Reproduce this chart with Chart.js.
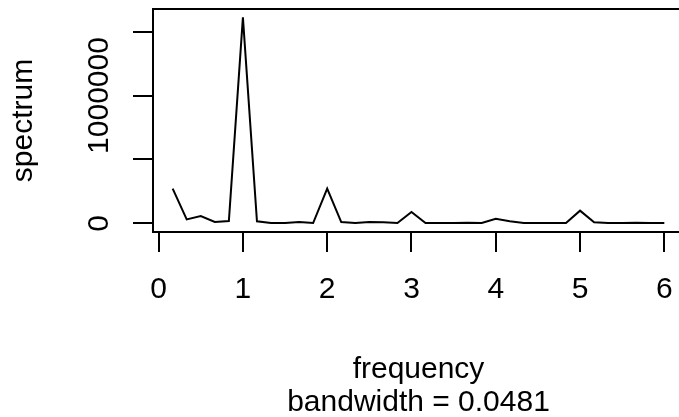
<!DOCTYPE html>
<html lang="en">
<head>
  <meta charset="UTF-8" />
  <title>Spectrum</title>
  <script src="https://cdn.jsdelivr.net/npm/chart.js"></script>
  <style>
    html, body { margin: 0; padding: 0; overflow: hidden; background: #fff; }
    #wrap { width: 684px; height: 417px; }
  </style>
</head>
<body>
<div id="wrap"><canvas id="specChart" width="684" height="417"></canvas></div>

<script>
  // raw periodogram
  const freq = [0.1667, 0.3333, 0.5, 0.6667, 0.8333, 1, 1.1667, 1.3333, 1.5, 1.6667, 1.8333, 2,
                2.1667, 2.3333, 2.5, 2.6667, 2.8333, 3, 3.1667, 3.3333, 3.5, 3.6667, 3.8333, 4,
                4.1667, 4.3333, 4.5, 4.6667, 4.8333, 5, 5.1667, 5.3333, 5.5, 5.6667, 5.8333, 6];
  const spec = [271000, 31000, 57000, 10000, 18000, 1612000, 16000, 2000, 3000, 10000, 2000, 271000,
                10000, 2000, 10000, 8000, 3000, 88000, 2000, 2000, 2000, 5000, 2000, 35000,
                16000, 3000, 3000, 3000, 3000, 99000, 8000, 3000, 3000, 5000, 3000, 2000];
  const xTicks = [0, 1, 2, 3, 4, 5, 6];
  const yTicks = [0, 500000, 1000000, 1500000];
  const yTickLabels = ['0', '', '1000000', ''];
  const xTitle = ['frequency', 'bandwidth = 0.0481'];
  const yTitle = 'spectrum';

  const FONT = 'Liberation Sans, Arial, sans-serif';
  const fontSize = 30;

  // box round the plot region + rotated y tick labels, like base R
  const boxPlugin = {
    id: 'box',
    afterDraw(chart) {
      const { ctx, chartArea: a } = chart;
      const ys = chart.scales.y;
      ctx.save();
      ctx.strokeStyle = '#000';
      ctx.lineWidth = 2;
      ctx.strokeRect(a.left, a.top, a.right - a.left, a.bottom - a.top);
      ctx.fillStyle = '#000';
      ctx.font = fontSize + 'px ' + FONT;
      ctx.textAlign = 'center';
      ctx.textBaseline = 'alphabetic';
      yTicks.forEach((v, i) => {
        if (!yTickLabels[i]) return;
        ctx.save();
        ctx.translate(a.left - 45, ys.getPixelForValue(v));
        ctx.rotate(-Math.PI / 2);
        ctx.fillText(yTickLabels[i], 0, 0);
        ctx.restore();
      });
      ctx.restore();
    }
  };

  new Chart(document.getElementById('specChart').getContext('2d'), {
    type: 'line',
    data: {
      datasets: [{
        data: freq.map((f, i) => ({ x: f, y: spec[i] })),
        borderColor: '#000',
        borderWidth: 2,
        pointRadius: 0,
        tension: 0,
        fill: false
      }]
    },
    options: {
      responsive: false,
      animation: false,
      devicePixelRatio: 1,
      layout: { padding: { top: 9, right: 0, bottom: 0, left: 0 } },
      plugins: { legend: { display: false }, tooltip: { enabled: false } },
      scales: {
        x: {
          type: 'linear',
          min: -0.0667,
          max: 6.2333,
          afterBuildTicks: s => { s.ticks = xTicks.map(v => ({ value: v })); },
          afterFit: s => { s.height = 185; s.paddingLeft = 0; s.paddingRight = 0; },
          grid: { display: true, drawOnChartArea: false, drawTicks: true, tickLength: 20, color: '#000', lineWidth: 2 },
          border: { display: false },
          ticks: { color: '#000', font: { family: FONT, size: fontSize, lineHeight: 1.2 }, padding: 20, maxRotation: 0, autoSkip: false,
                   callback: v => String(v) },
          title: { display: true, text: xTitle, color: '#000', font: { family: FONT, size: fontSize, lineHeight: 1.1 },
                   padding: { top: 0, bottom: -2 } }
        },
        y: {
          type: 'linear',
          min: -68000,
          max: 1677000,
          afterBuildTicks: s => { s.ticks = yTicks.map(v => ({ value: v })); },
          afterFit: s => { s.width = 153; s.paddingTop = 0; s.paddingBottom = 0; },
          grid: { display: true, drawOnChartArea: false, drawTicks: true, tickLength: 20, color: '#000', lineWidth: 2 },
          border: { display: false },
          ticks: { display: false },
          title: { display: true, text: yTitle, color: '#000', font: { family: FONT, size: fontSize, lineHeight: 1.2 },
                   padding: { top: 6, bottom: 0 } }
        }
      }
    },
    plugins: [boxPlugin]
  });
</script>
</body>
</html>
